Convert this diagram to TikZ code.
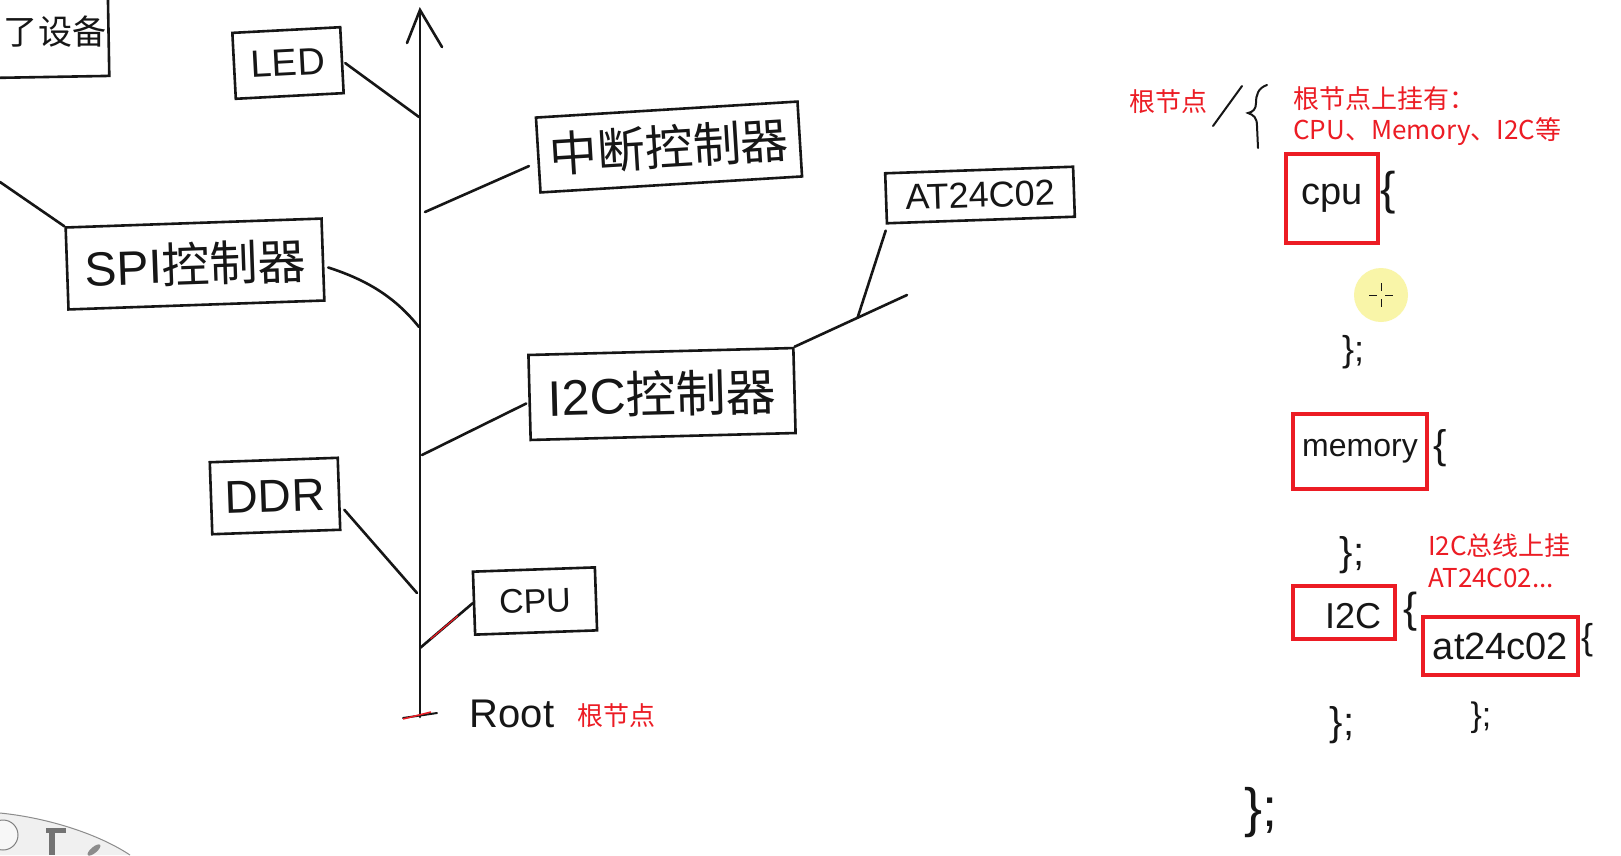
\documentclass[tikz,border=0pt]{standalone}
\usepackage{fontspec}
\setmainfont{Liberation Sans}
\newfontfamily\cjk{Noto Sans CJK SC}
\usetikzlibrary{calc}
\definecolor{ink}{RGB}{22,22,22}
\definecolor{hl}{RGB}{236,28,36}
\definecolor{hilite}{RGB}{249,245,168}
\newcommand\setfs[1]{\fontsize{#1}{#1}\selectfont}
\begin{document}
\begin{tikzpicture}[x=1pt,y=-1pt,
 box/.style={draw=ink, line width=2.6pt, inner sep=0pt, text=ink},
 wire/.style={draw=ink, line width=2.6pt, line cap=round},
 rbox/.style={draw=hl, line width=3.6pt, inner sep=0pt, text=ink},
 rtxt/.style={text=hl, inner sep=0pt, font=\cjk\setfs{26}},
 hw/.style={text=ink, inner sep=0pt}]
\useasboundingbox (0,0) rectangle (1621,855);
\clip (0,0) rectangle (1621,855);
\fill[white] (0,0) rectangle (1621,855);

% toolbar remnant, bottom left
\fill[black!6] (0,813) .. controls (50,818) and (100,835) .. (130,855) -- (0,855) -- cycle;
\draw[black!45, line width=1pt] (0,813) .. controls (50,818) and (100,835) .. (130,855);
\draw[black!50, line width=1pt, fill=black!3] (3,835) circle (15);
\fill[black!55] (49,831) rectangle (55,855);
\fill[black!55] (46,828) rectangle (66,833);
\fill[black!45, rotate around={-50:(94,850)}] (94,850) ellipse (3 and 8);

% left tree
\node[box, rotate=1, minimum width=240, minimum height=150] (dev) at (-12,3) {};
\node[hw, font=\cjk\setfs{34}] (devtxt) at (55,32) {了设备};

\node[box, rotate=3, minimum width=108, minimum height=66, font=\setfs{38}] (led) at (288,63) {LED};
\node[box, rotate=3.5, minimum width=262, minimum height=75, font=\cjk\setfs{48}] (intc) at (669,147) {中断控制器};
\node[box, rotate=2, minimum width=256, minimum height=82, font=\setfs{48}] (spi) at (195,264) {SPI\cjk 控制器};
\node[box, rotate=2, minimum width=188, minimum height=50, font=\setfs{36}] (at) at (980,195) {AT24C02};
\node[box, rotate=1.5, minimum width=265, minimum height=85, font=\setfs{50}] (i2cc) at (662,394) {I2C\cjk 控制器};
\node[box, rotate=2, minimum width=128, minimum height=72, font=\setfs{46}] (ddr) at (275,496) {DDR};
\node[box, rotate=2, minimum width=122, minimum height=63, font=\setfs{34}] (cpu) at (535,601) {CPU};

% axis
\coordinate (atop) at (420,10);
\coordinate (abot) at (420,717);
\coordinate (barbL) at (407,43);
\coordinate (barbR) at (442,47);
\draw[wire] (abot) -- (atop);
\draw[wire] (barbL) -- (atop) -- (barbR);

\coordinate (aLED) at (419,117);
\coordinate (aINT) at (425,212);
\coordinate (spiL) at (0,182);
\coordinate (aSPI) at (419,327);
\coordinate (aI2C) at (422,455);
\coordinate (jEnd) at (907,295);
\coordinate (aDDR) at (417,593);
\coordinate (aCPU) at (420,648);

\draw[wire] ($(led.east)+(2,3)$) -- (aLED);
\draw[wire] (aINT) -- ($(intc.west)+(-8,11)$);
\draw[wire] (spiL) -- (spi.north west);
\draw[wire] ($(spi.east)+(4,8)$) .. controls (367,280) and (395,297) .. (aSPI);
\draw[wire] (aI2C) -- ($(i2cc.west)+(-2,6)$);
\draw[wire] (i2cc.north east) -- (jEnd);
\coordinate (jB) at ($(i2cc.north east)!0.56!(jEnd)$);
\draw[wire] (jB) -- ($(at.south west)+(0,6)$);
\draw[wire] ($(ddr.east)+(4,16)$) -- (aDDR);
\draw[wire] (aCPU) -- (cpu.west);
\draw[hl, line width=1.2pt, yshift=-2pt] ($(aCPU)!0.2!(cpu.west)$) -- ($(aCPU)!0.72!(cpu.west)$);

\coordinate (t1) at (403,718);
\coordinate (t2) at (437,713);
\draw[wire, line width=2pt] (t1) -- (t2);
\draw[hl, line width=1.5pt] ($(t1)+(0,1)$) -- ($(t2)+(-6,-1)$);

\node[hw, font=\setfs{40}] (root) at (512,714) {Root};
\node[rtxt] (rootcn) at (616,716) {根节点};

% right: device tree sketch
\node[rtxt] (rn) at (1168,102) {根节点};
\coordinate (s1) at (1213,126);
\coordinate (s2) at (1242,86);
\draw[wire, line width=2pt] (s1) -- (s2);
\draw[wire, line width=2pt] (1267,85) .. controls (1258,88) and (1256,95) .. (1256,103) .. controls (1256,109) and (1253,112) .. (1248,113) .. controls (1254,115) and (1257,118) .. (1257,126) -- (1258,148);
\node[rtxt, anchor=west] (rl1) at (1293,99) {根节点上挂有：};
\node[rtxt, anchor=west] (rl2) at (1293,132) {CPU、Memory、I2C等};

\node[rbox, minimum width=92, minimum height=89, font=\setfs{38}] (rcpu) at (1332,198.5) {cpu};
\node[hw, font=\setfs{46}] (bcpu) at (1388,193) {\{};

\fill[hilite] (1381,295) circle (27);
\draw[ink, line width=1pt] (1369,295) -- (1377,295) (1385,295) -- (1393,295) (1381,283) -- (1381,291) (1381,299) -- (1381,307);

\node[hw, font=\setfs{36}] (e1) at (1353,352) {\};};

\node[rbox, minimum width=134, minimum height=75, font=\setfs{32}] (rmem) at (1360,451.5) {memory};
\node[hw, font=\setfs{40}] (bmem) at (1440,448) {\{};
\node[hw, font=\setfs{40}] (e2) at (1352,555) {\};};

\node[rtxt, anchor=west] (ri1) at (1428,546) {I2C总线上挂};
\node[rtxt, anchor=west] (ri2) at (1428,578) {AT24C02...};

\node[rbox, minimum width=102, minimum height=53] (ri2c) at (1344,612.5) {};
\node[hw, font=\setfs{36}] (ri2ct) at (1353,616) {I2C};
\node[hw, font=\setfs{42}] (bi2c) at (1410,612) {\{};

\node[rbox, minimum width=155, minimum height=58, font=\setfs{38}] (rat) at (1500.5,646) {at24c02};
\node[hw, font=\setfs{36}] (bat) at (1587,640) {\{};

\node[hw, font=\setfs{40}] (e3) at (1342,725) {\};};
\node[hw, font=\setfs{34}] (e4) at (1481,718) {\};};
\node[hw, font=\setfs{54}] (e5) at (1261,813) {\};};
\end{tikzpicture}
\end{document}
